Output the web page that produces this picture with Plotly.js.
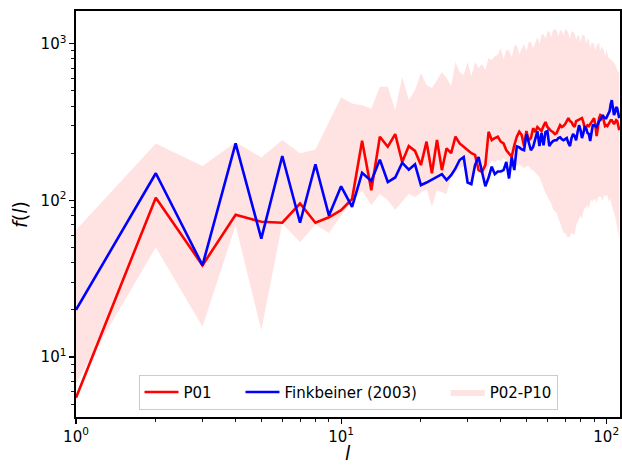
<!DOCTYPE html>
<html><head><meta charset="utf-8">
<script src="https://cdn.plot.ly/plotly-3.0.1.min.js"></script>
<style>html,body{margin:0;padding:0;background:#fff}#chart{width:622px;height:466px}</style>
</head><body><div id="chart"></div>
<script>
const ell = [1,2,3,4,5,6,7,8,9,10,11,12,13,14,15,16,17,18,19,20,
21,22,23,24,25,26,27,28,29,30,31,32,33,34,35,36,37,38,39,40,
41,42,43,44,45,46,47,48,49,50,51,52,53,54,55,56,57,58,59,60,
61,62,63,64,65,66,67,68,69,70,71,72,73,74,75,76,77,78,79,80,
81,82,83,84,85,86,87,88,89,90,91,92,93,94,95,96,97,98,99,100,
101,102,103,104,105,106,107,108,109,110,111,112];

const p01 = [5.5,104,38.5,81,73,72,95.5,72,78,86.5,102,240,116,255,220,265,176,222,207,
168,237,149,243,156,215,200,255,231,220,209,200,195,156,152,168,274,243,250,255,237,231,209,200,190,225,255,274,
261,222,277,242,250,289,273,294,285,277,298,316,294,285,277,273,265,269,289,302,294,298,307,325,335,321,316,302,294,321,325,330,335,335,316,289,294,302,298,307,311,325,335,302,257,289,335,350,345,345,316,298,302,298,307,321,325,325,316,307,316,325,321,289,281];

const fink = [20,149,38.5,231,57,192,72,170,80,123,91,150,133,182,131,140,174,157,170,
125,130,136,142,147,135,145,160,181,189,130,127,168,189,151,123,140,164,147,153,153,156,176,138,189,156,221,218,
212,209,265,235,209,219,250,277,222,269,225,273,277,222,232,239,242,242,250,253,246,242,246,250,232,222,250,265,257,242,273,302,281,250,269,294,289,269,265,239,269,302,302,298,294,307,321,325,340,350,340,335,335,350,366,371,412,437,388,350,366,394,388,366,335];

const bandTop = [64.6,231,166,235,188,243,200,211,318,455,416,405,386,531,531,377,615,437,506,
650,545,521,586,659,604,537,764,659,631,764,622,764,699,742,679,810,787,834,847,939,800,911,911,820,967,981,860,925,995,900,
1025,1025,940,1010,1104,1000,1137,1153,1080,1188,1205,1100,1223,1241,1223,1120,1223,1205,1130,1241,1223,1170,1080,1205,1188,1170,1060,1137,1120,1020,
1137,1137,1120,1000,1088,1056,950,1010,1010,995,900,981,995,1010,900,967,939,911,830,911,872,810,810,787,787,764,764,742,710,679,659,650];

const bandBot = [6.8,50,15.6,69,14.8,71,54,70,62,80,
100,115,93,110,100,87,98,110,105,112,
118,91,116,113,110,140,150,160,165,135,
130,160,170,150,130,165,180,175,182,178,
185,180,170,180,170,165,170,165,160,165,
165,158,155,150,145,141,130,120,112,105,
100,95,88,85,83,76,72,68,62,62,
59,58,59,62,61,60,69,72,76,80,
76,86,89,90,93,88,98,100,99,100,
103,95,104,106,106,104,98,108,106,108,
107,97,104,100,93,88,83,79,75,70,
62,57];

const seriesNames = ['P01', 'Finkbeiner (2003)', 'P02-P10'];
const xTitle = '<i>l</i>';
const yTitle = '<i>f</i>(<i>l</i>)';
const xTickVals = [1,10,100];
const xTickText = ['10<sup>0</sup>','10<sup>1</sup>','10<sup>2</sup>'];
const xMinor = [2,3,4,5,6,7,8,9,20,30,40,50,60,70,80,90];
const yTickVals = [10,100,1000];
const yTickText = ['10<sup>1</sup>','10<sup>2</sup>','10<sup>3</sup>'];
const yMinor = [5,6,7,8,9,20,30,40,50,60,70,80,90,200,300,400,500,600,700,800,900];

const pad = '\u00a0\u00a0\u00a0\u00a0\u00a0';
const bandX = ell.concat(ell.slice().reverse());
const bandY = bandTop.concat(bandBot.slice().reverse());

const traces = [
  {x: bandX, y: bandY, type:'scatter', mode:'lines', fill:'toself',
   fillcolor:'rgba(255,0,0,0.11)', line:{width:0, color:'rgba(255,0,0,0)'},
   name:seriesNames[2], legendrank:3, hoverinfo:'skip'},
  {x: ell, y: p01, type:'scatter', mode:'lines', line:{color:'#ff0000', width:2.6},
   name:seriesNames[0] + pad, legendrank:1},
  {x: ell, y: fink, type:'scatter', mode:'lines', line:{color:'#0000ff', width:2.6},
   name:seriesNames[1] + pad, legendrank:2}
];

const axisCommon = {
  type:'log', showgrid:false, zeroline:false, showline:true, linecolor:'#000', linewidth:1.6,
  mirror:true, ticks:'outside', ticklen:5, tickwidth:1.2, tickcolor:'#000', tickmode:'array',
  tickfont:{size:15, color:'#000'}
};

const layout = {
  width:622, height:466, margin:{l:76, r:2, t:11, b:49},
  paper_bgcolor:'#fff', plot_bgcolor:'#fff',
  font:{family:'DejaVu Sans, sans-serif', size:15, color:'#000'},
  showlegend:true,
  legend:{orientation:'h', x:0.5, xanchor:'center', y:0.018, yanchor:'bottom',
          itemwidth:34,
          bordercolor:'#cccccc', borderwidth:1, bgcolor:'rgba(255,255,255,0.8)',
          font:{size:15}},
  xaxis: Object.assign({}, axisCommon, {
    range:[0, 2.052], tickvals:xTickVals, ticktext:xTickText,
    minor:{ticks:'outside', ticklen:3, tickwidth:0.9, tickcolor:'#000', tickmode:'array', tickvals:xMinor, showgrid:false}
  }),
  yaxis: Object.assign({}, axisCommon, {
    range:[0.617, 3.209], tickvals:yTickVals, ticktext:yTickText,
    minor:{ticks:'outside', ticklen:3, tickwidth:0.9, tickcolor:'#000', tickmode:'array', tickvals:yMinor, showgrid:false}
  }),
  annotations:[
    {text:xTitle, xref:'paper', yref:'paper', x:0.5, y:-0.0895, xanchor:'center', yanchor:'middle',
     showarrow:false, borderpad:0, font:{size:19, color:'#000'}},
    {text:yTitle, xref:'paper', yref:'paper', x:-0.103, y:0.5, xanchor:'center', yanchor:'middle',
     textangle:-90, showarrow:false, font:{size:19, color:'#000'}}
  ]
};

Plotly.newPlot('chart', traces, layout, {displayModeBar:false, staticPlot:true});
</script>
</body></html>
